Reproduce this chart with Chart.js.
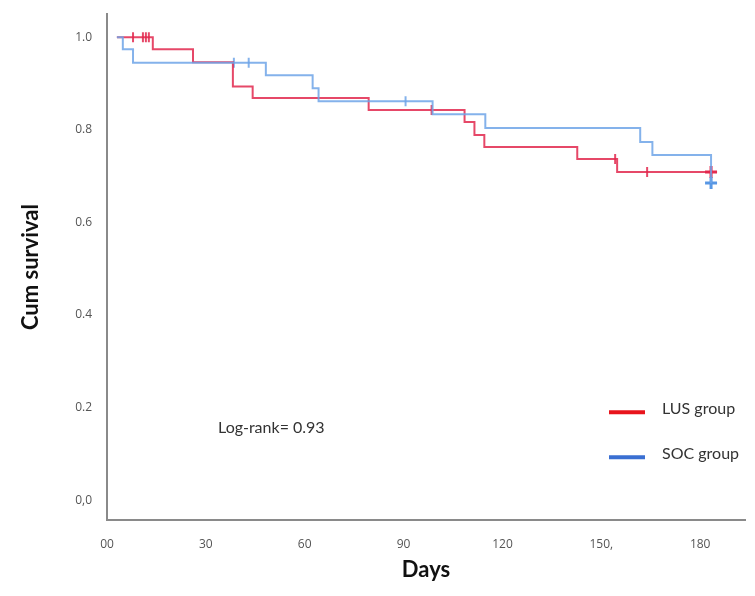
<!DOCTYPE html>
<html>
<head>
<meta charset="utf-8">
<script src="https://cdn.jsdelivr.net/npm/chart.js@4.4.1/dist/chart.umd.min.js"></script>
<style>
  body { margin: 0; background: #fff; }
  #wrap { width: 755px; height: 596px; position: relative; }
</style>
</head>
<body>
<div id="wrap"><canvas id="kmChart"></canvas></div>
<script>
// Kaplan-Meier steps: day of each step and survival after it
const lusDays = [3, 13.9, 26.1, 38.2, 44.2, 79.4, 108.5, 111.5, 114.5, 142.7, 154.8, 183.3];
const lusSurv = [1.0, 0.974, 0.946, 0.894, 0.869, 0.843, 0.817, 0.789, 0.763, 0.737, 0.709, 0.709];
const lusCensored = [7.9, 10.9, 11.8, 12.7, 98.5, 154.2, 163.9];
const lusLastCensor = [183.3];

const socDays = [3, 4.8, 7.9, 48.2, 62.4, 64.2, 98.8, 114.8, 161.8, 165.5, 183.3];
const socSurv = [1.0, 0.974, 0.945, 0.918, 0.89, 0.862, 0.834, 0.804, 0.774, 0.746, 0.685];
const socCensored = [38.5, 43, 90.6];
const socLastCensor = [183.3];

const xTickValues = [0, 30, 60, 90, 120, 150, 180];
const xTickLabels = ['00', '30', '60', '90', '120', '150,', '180'];
const yTickValues = [0, 0.2, 0.4, 0.6, 0.8, 1.0];
const yTickLabels = ['0,0', '0.2', '0.4', '0.6', '0.8', '1.0'];

const seriesNames = ['LUS group', 'SOC group'];
const logRankText = 'Log-rank= 0.93';

const redLine = 'rgba(226, 40, 78, 0.85)';
const blueLine = 'rgba(110, 165, 232, 0.85)';

function survAt(days, surv, t) {
  let s = surv[0];
  for (let i = 0; i < days.length; i++) {
    if (days[i] <= t) s = surv[i];
  }
  return s;
}

function stepPoints(days, surv) {
  return days.map((d, i) => ({ x: d, y: surv[i] }));
}

function censorPoints(list, days, surv) {
  return list.map(t => ({ x: t, y: survAt(days, surv, t) }));
}

// legend + log-rank note drawn inside the plot
const notesPlugin = {
  id: 'notes',
  afterDraw(chart) {
    const ctx = chart.ctx;
    const area = chart.chartArea;
    ctx.save();
    const items = [
      { name: seriesNames[0], color: '#e8141c', y: area.top + 395 },
      { name: seriesNames[1], color: '#3a6fd2', y: area.top + 440 }
    ];
    ctx.font = '16px Lato';
    ctx.textBaseline = 'middle';
    items.forEach(it => {
      ctx.strokeStyle = it.color;
      ctx.lineWidth = 4;
      ctx.beginPath();
      ctx.moveTo(area.left + 502, it.y + 3);
      ctx.lineTo(area.left + 538, it.y + 3);
      ctx.stroke();
      ctx.fillStyle = '#333';
      ctx.fillText(it.name, area.left + 555, it.y);
    });
    ctx.fillText(logRankText, area.left + 111, area.top + 414);
    ctx.restore();
  }
};

new Chart(document.getElementById('kmChart'), {
  type: 'line',
  data: {
    datasets: [
      { label: seriesNames[1], data: stepPoints(socDays, socSurv), stepped: true,
        borderColor: blueLine, borderWidth: 2, pointRadius: 0, fill: false },
      { label: seriesNames[0], data: stepPoints(lusDays, lusSurv), stepped: true,
        borderColor: redLine, borderWidth: 2, pointRadius: 0, fill: false },
      { label: 'soc censored', data: censorPoints(socCensored, socDays, socSurv), showLine: false,
        pointStyle: 'line', rotation: 90, pointRadius: 5, borderColor: blueLine, borderWidth: 2 },
      { label: 'lus censored', data: censorPoints(lusCensored, lusDays, lusSurv), showLine: false,
        pointStyle: 'line', rotation: 90, pointRadius: 5, borderColor: redLine, borderWidth: 2 },
      { label: 'soc last', data: censorPoints(socLastCensor, socDays, socSurv), showLine: false,
        pointStyle: 'cross', pointRadius: 6, borderColor: 'rgba(70, 140, 225, 0.9)', borderWidth: 3 },
      { label: 'lus last', data: censorPoints(lusLastCensor, lusDays, lusSurv), showLine: false,
        pointStyle: 'cross', pointRadius: 6, borderColor: 'rgba(226, 20, 60, 0.9)', borderWidth: 3 }
    ]
  },
  options: {
    responsive: true,
    maintainAspectRatio: false,
    animation: false,
    layout: { padding: { top: 13, right: 10, left: 18, bottom: 0 } },
    plugins: {
      legend: { display: false },
      tooltip: { enabled: false }
    },
    scales: {
      x: {
        type: 'linear',
        min: 0,
        max: 193.6,
        grid: { display: false },
        border: { display: true, color: '#8a8a8a', width: 2 },
        afterBuildTicks: s => { s.ticks = xTickValues.map(v => ({ value: v })); },
        afterFit: s => { s.height = 76; },
        ticks: {
          padding: 9,
          color: '#555',
          font: { family: 'Open Sans', size: 12 },
          callback: (v, i) => xTickLabels[i]
        },
        title: {
          display: true,
          text: 'Days',
          color: '#111',
          font: { family: 'Lato', size: 22, weight: 'bold' },
          padding: { top: 0, bottom: 13 }
        }
      },
      y: {
        min: -0.043,
        max: 1.05,
        grid: { display: false },
        border: { display: true, color: '#8a8a8a', width: 2 },
        afterBuildTicks: s => { s.ticks = yTickValues.map(v => ({ value: v })); },
        afterFit: s => { s.width = 89; },
        ticks: {
          padding: 7,
          color: '#555',
          font: { family: 'Open Sans', size: 12 },
          callback: (v, i) => yTickLabels[i]
        },
        title: {
          display: true,
          text: 'Cum survival',
          color: '#111',
          font: { family: 'Lato', size: 22, weight: 'bold' },
          padding: { top: 0, bottom: 0 }
        }
      }
    }
  },
  plugins: [notesPlugin]
});
</script>
</body>
</html>
